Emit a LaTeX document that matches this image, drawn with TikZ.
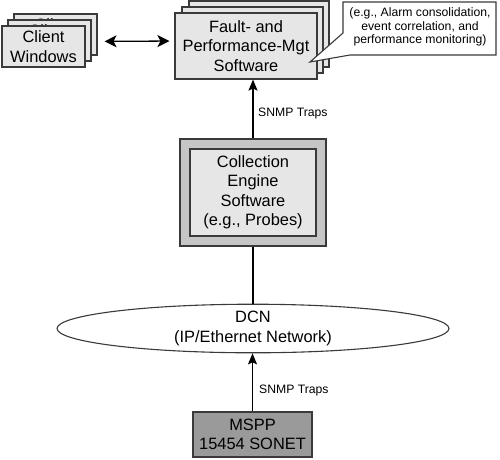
\documentclass[tikz,border=0pt]{standalone}
\usepackage{fontspec}
\setmainfont{Liberation Sans}
\usetikzlibrary{arrows.meta,shapes.geometric,calc}
\definecolor{boxgray}{HTML}{E6E6E6}
\definecolor{framegray}{HTML}{C6C6C6}
\definecolor{darkbox}{HTML}{9A9A9A}
\definecolor{edgecol}{HTML}{3A3A3A}
\newcommand{\bigf}{\fontsize{16.4}{19.5}\selectfont}
\newcommand{\smallf}{\fontsize{12.2}{13.2}\selectfont}
\begin{document}
\begin{tikzpicture}[x=1pt,y=-1pt,
  box/.style={draw=edgecol, fill=boxgray, line width=1.1pt, inner sep=0pt, align=center, font=\bigf},
  arr/.style={draw=black, line width=1.3pt, -{Stealth[length=11pt,width=9pt,inset=2pt]}},
  dblarr/.style={draw=black, line width=1.3pt, {Stealth[length=12pt,width=12pt,inset=3pt]}-{Stealth[length=12pt,width=12pt,inset=3pt]}},
  lbl/.style={font=\smallf, anchor=west, inner sep=0pt}]
\useasboundingbox (0,0) rectangle (500,459);
% client windows stack
\node[box, minimum width=83pt, minimum height=41pt] (cwb) at (55.5,34.5) {Client\\Windows};
\node[box, minimum width=83pt, minimum height=41pt] (cwm) at (49.5,40.5) {Client\\Windows};
\node[box, minimum width=83pt, minimum height=41pt] (cw) at (43.5,46.5) {Client\\Windows};
% fault management stack
\node[box, minimum width=140pt, minimum height=66pt] (fpb) at (259,34) {};
\node[box, minimum width=141pt, minimum height=66pt] (fpm) at (252.5,40) {};
\node[box, minimum width=142pt, minimum height=66pt] (fp) at (246,46) {Fault- and\\Performance-Mgt\\Software};
% callout
\draw[draw=edgecol, fill=white, line width=1.1pt, line join=miter]
  (343,2) -- (496,2) -- (496,55) -- (350,55) -- (310,62) -- (343,33) -- cycle;
\node[font=\smallf, align=center, inner sep=0pt] (note) at (420,27) {(e.g., Alarm consolidation,\\event correlation, and\\performance monitoring)};
% collection engine
\node[box, fill=framegray, minimum width=146pt, minimum height=107pt] (coll) at (253,192.5) {};
\node[box, minimum width=126pt, minimum height=87pt] (colli) at (253,192.5) {Collection\\Engine\\Software\\(e.g., Probes)};
% DCN
\node[ellipse, draw=edgecol, fill=white, line width=1.1pt, minimum width=392pt, minimum height=47pt, inner sep=0pt, align=center, font=\bigf] (dcn) at (253,328.5) {DCN\\(IP/Ethernet Network)};
% MSPP
\node[box, fill=darkbox, minimum width=119pt, minimum height=45pt] (mspp) at (252.5,434.5) {MSPP\\15454 SONET};
% connectors
\draw[dblarr, shorten <=19pt, shorten >=5pt] ([yshift=5pt]cw.east) -- ([yshift=5pt]fp.west);
\draw[arr] (coll.north) -- (coll.north |- fp.south);
\draw[draw=black, line width=1.3pt] (coll.south) -- (dcn.north);
\draw[arr] (mspp.north) -- (mspp.north |- dcn.south);
\node[lbl] (l1) at (258,113) {SNMP Traps};
\node[lbl] (l2) at (259,390) {SNMP Traps};
\end{tikzpicture}
\end{document}
